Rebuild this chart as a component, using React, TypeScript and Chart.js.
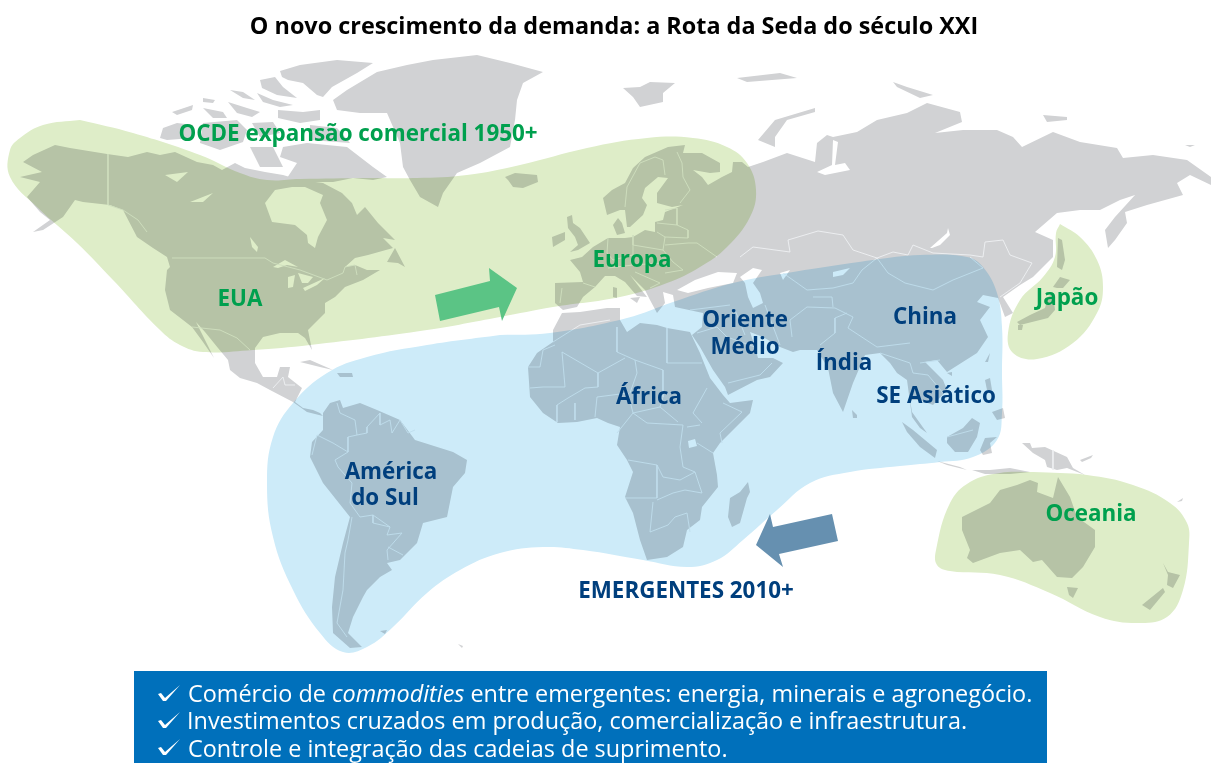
import React, { useEffect, useRef } from "react";
import { Chart, registerables } from "chart.js";

type P = number[];

// ---- regions (map units: 1211 x 763 frame) ----
const greenMain: P[] = [[80,120],[133,133],[200,155],[240,173],[267,180],[300,179],[367,178],[417,178],[467,175],[520,165],[587,148],[647,138],[693,138],[727,147],[747,163],[756,190],[750,217],[727,247],[700,267],[667,283],[620,297],[553,307],[500,317],[427,330],[310,345],[253,350],[203,352],[180,345],[160,330],[113,280],[77,243],[37,207],[10,177],[10,150],[20,138],[43,125],[80,120]];
const blueMain: P[] = [[500,335],[427,345],[367,357],[327,373],[293,403],[273,437],[267,483],[273,537],[293,590],[320,633],[343,652],[367,647],[393,627],[427,593],[460,570],[500,553],[543,547],[583,550],[643,560],[687,567],[717,560],[743,540],[777,510],[810,483],[850,472],[900,466],[940,462],[973,457],[997,440],[1002,413],[1002,373],[1002,327],[997,293],[983,267],[967,257],[920,255],[873,260],[787,273],[733,283],[673,302],[627,318],[550,333],[500,335]];
const greenJapan: P[] = [[1060,224],[1080,237],[1097,260],[1103,287],[1097,313],[1073,343],[1037,359],[1013,353],[1008,333],[1020,300],[1043,277],[1055,257],[1056,233],[1060,224]];
const greenOceania: P[] = [[1033,472],[1087,475],[1133,485],[1170,503],[1187,523],[1189,543],[1183,590],[1167,617],[1137,623],[1100,617],[1050,593],[1000,575],[950,571],[937,565],[936,550],[950,503],[970,482],[1000,473],[1033,472]];

// ---- land ----
const northAmerica: P[] = [[23,162],[33,155],[55,145],[70,148],[107,154],[128,157],[147,152],[160,155],[175,152],[197,162],[213,165],[222,170],[235,163],[245,168],[265,172],[283,175],[300,180],[323,183],[342,193],[352,203],[357,215],[365,207],[378,223],[395,240],[383,238],[393,248],[368,255],[355,258],[345,267],[355,265],[367,270],[380,270],[363,280],[345,287],[335,297],[325,303],[325,313],[308,330],[312,350],[305,338],[298,333],[280,333],[263,337],[255,348],[255,363],[263,377],[277,377],[280,367],[290,367],[288,377],[302,388],[295,402],[303,408],[313,410],[320,413],[323,416],[307,412],[293,402],[270,390],[257,383],[240,378],[230,370],[228,360],[218,348],[205,332],[196,322],[214,358],[203,342],[192,327],[183,320],[170,310],[165,290],[167,270],[170,267],[167,257],[153,248],[137,237],[123,210],[110,205],[83,202],[75,200],[63,217],[43,230],[33,232],[50,220],[40,212],[27,197],[40,182],[20,177],[42,172]];
const newfoundland: P[] = [[395,248],[405,267],[398,263],[387,262]];
const greenland: P[] = [[477,55],[510,63],[543,72],[523,83],[517,100],[515,120],[510,147],[480,163],[457,173],[443,193],[438,207],[420,197],[410,180],[403,167],[400,143],[387,113],[360,113],[337,110],[333,100],[347,90],[377,72],[407,65],[433,60]];
const iceland: P[] = [[505,177],[515,173],[537,175],[538,182],[523,188],[513,187],[508,180]];
const ellesmere: P[] = [[280,71],[300,65],[337,60],[373,63],[357,73],[332,87],[323,97],[317,95],[303,83],[288,80],[282,77]];
const axelHeiberg: P[] = [[260,80],[275,77],[283,87],[297,98],[277,95],[262,88]];
const arcticA: P[] = [[230,90],[243,92],[255,100],[243,98]];
const arcticB: P[] = [[257,93],[273,100],[293,105],[280,107],[263,102]];
const devon: P[] = [[278,110],[303,112],[320,110],[320,120],[300,123],[278,118]];
const melville: P[] = [[228,102],[247,108],[260,112],[252,117],[237,113]];
const arcticC: P[] = [[172,112],[193,105],[192,110],[177,115]];
const arcticD: P[] = [[203,98],[215,100],[213,103],[203,102]];
const arcticE: P[] = [[203,108],[223,112],[227,118],[213,118]];
const banks: P[] = [[163,128],[177,123],[193,125],[193,138],[167,140],[160,138]];
const victoriaIsland: P[] = [[203,123],[237,120],[247,130],[243,142],[220,150],[200,143]];
const somerset: P[] = [[252,123],[273,122],[280,133],[260,137]];
const baffin: P[] = [[283,147],[307,143],[347,147],[373,167],[387,177],[373,180],[353,178],[333,182],[303,182],[287,178],[297,163],[280,157]];
const baffinNorth: P[] = [[310,125],[337,128],[350,143],[310,140]];
const boothia: P[] = [[250,147],[273,147],[283,167],[260,167]];
const svalbard: P[] = [[623,88],[640,87],[650,82],[675,83],[663,93],[663,102],[640,107],[633,97]];
const franzJosef: P[] = [[737,78],[780,73],[797,78],[747,82]];
const novayaZemlya: P[] = [[758,140],[775,120],[815,108],[815,112],[787,120],[775,137],[775,147]];
const severnaya: P[] = [[893,82],[907,87],[933,95],[920,98],[897,87]];
const newSiberia: P[] = [[1043,115],[1067,117],[1067,120],[1047,122]];
const wrangel: P[] = [[1185,145],[1195,145],[1190,147]];
const eurasia: P[] = [[603,198],[612,190],[625,183],[633,168],[645,157],[668,147],[685,145],[683,153],[702,153],[720,163],[720,172],[710,173],[693,170],[702,177],[708,185],[722,177],[732,172],[733,162],[742,162],[748,167],[763,162],[787,153],[815,162],[817,143],[827,135],[833,137],[857,132],[877,120],[907,113],[927,103],[960,112],[962,122],[935,133],[963,130],[997,130],[1013,137],[1022,147],[1053,132],[1080,142],[1117,148],[1123,158],[1153,155],[1187,160],[1211,177],[1211,185],[1190,175],[1177,183],[1183,195],[1147,205],[1125,212],[1127,223],[1115,240],[1108,248],[1105,230],[1115,217],[1135,195],[1120,200],[1100,210],[1080,210],[1057,213],[1035,232],[1053,240],[1053,257],[1033,277],[1020,285],[1003,297],[1013,313],[1005,317],[998,298],[983,295],[977,302],[990,307],[980,320],[988,337],[977,353],[947,372],[937,360],[925,362],[943,380],[947,390],[933,405],[920,400],[910,400],[912,412],[927,433],[920,428],[912,417],[907,380],[897,373],[890,363],[880,353],[865,355],[853,383],[843,412],[833,393],[828,368],[817,350],[800,350],[793,352],[780,347],[763,337],[750,332],[755,347],[758,358],[773,358],[783,363],[770,377],[757,380],[728,395],[725,387],[713,370],[700,347],[692,335],[702,327],[703,313],[675,307],[673,295],[663,292],[665,303],[657,313],[650,300],[645,290],[630,275],[640,288],[647,297],[637,296],[625,282],[615,276],[605,276],[595,287],[583,297],[577,307],[563,310],[555,303],[555,283],[583,282],[580,272],[570,260],[582,257],[593,247],[608,238],[625,238],[633,237],[645,230],[655,232],[655,222],[663,220],[665,212],[683,205],[672,207],[657,203],[657,193],[668,178],[658,177],[645,188],[642,198],[647,205],[643,215],[630,227],[627,227],[625,210],[620,210],[607,215]];
const denmark: P[] = [[613,225],[618,218],[622,223],[625,233],[617,235]];
const britain: P[] = [[567,217],[572,215],[573,223],[580,228],[590,243],[578,250],[570,252],[578,245],[575,237],[568,228]];
const ireland: P[] = [[552,237],[565,232],[565,240],[553,247]];
const sardinia: P[] = [[613,287],[617,288],[617,298],[613,297]];
const sicily: P[] = [[630,298],[640,297],[637,303]];
const africa: P[] = [[562,313],[580,312],[607,308],[620,308],[620,320],[627,332],[640,323],[657,325],[667,328],[690,332],[700,353],[710,378],[723,395],[730,403],[753,400],[750,413],[740,423],[720,443],[713,453],[717,475],[718,487],[702,507],[700,520],[687,530],[683,547],[667,557],[647,560],[640,540],[633,513],[625,497],[633,472],[627,460],[617,445],[620,427],[608,423],[597,418],[577,422],[558,423],[543,413],[530,397],[528,367],[537,353],[553,342],[553,330]];
const madagascar: P[] = [[748,482],[750,492],[747,498],[740,523],[732,527],[728,517],[730,498],[740,492]];
const southAmerica: P[] = [[340,400],[343,408],[360,403],[377,410],[400,420],[415,440],[453,452],[467,460],[465,473],[453,487],[447,517],[423,523],[417,543],[400,560],[387,563],[392,570],[380,577],[367,590],[363,597],[353,617],[348,633],[362,647],[350,648],[333,633],[332,607],[335,577],[343,543],[350,517],[323,483],[310,457],[312,442],[323,430],[323,413],[330,403]];
const cuba: P[] = [[300,362],[310,360],[333,370],[320,367]];
const hispaniola: P[] = [[337,373],[352,373],[353,377],[340,377]];
const falklands: P[] = [[380,631],[387,630],[385,634]];
const southGeorgia: P[] = [[458,644],[463,646],[462,648]];
const australia: P[] = [[1017,485],[1030,480],[1038,483],[1037,492],[1053,498],[1058,477],[1070,497],[1077,517],[1095,530],[1095,547],[1083,567],[1072,578],[1057,577],[1042,560],[1033,562],[1020,550],[1000,553],[973,563],[967,558],[970,550],[962,530],[962,517],[990,503],[1000,490]];
const tasmania: P[] = [[1067,587],[1078,588],[1073,598],[1069,595]];
const nzNorth: P[] = [[1163,563],[1168,572],[1180,575],[1173,588],[1167,585],[1168,575]];
const nzSouth: P[] = [[1142,605],[1163,588],[1165,592],[1150,610]];
const newGuinea: P[] = [[1022,443],[1030,443],[1032,448],[1045,447],[1067,457],[1073,468],[1085,475],[1067,468],[1057,470],[1047,467],[1045,460],[1033,453]];
const newBritain: P[] = [[1080,460],[1093,455],[1091,458],[1082,462]];
const vanuatu: P[] = [[1177,502],[1183,498],[1182,501]];
const sumatra: P[] = [[902,422],[913,430],[937,450],[935,458],[920,447],[907,432]];
const java: P[] = [[937,461],[960,467],[967,470],[947,465]];
const lesserSunda: P[] = [[972,470],[990,470],[1010,468],[1030,472],[1010,474],[985,474]];
const borneo: P[] = [[947,437],[963,428],[972,418],[980,423],[977,437],[968,452],[955,452],[947,443]];
const sulawesi: P[] = [[980,450],[985,438],[997,437],[990,443],[992,453],[983,455]];
const luzon: P[] = [[985,380],[990,378],[992,390],[987,390]];
const mindanao: P[] = [[992,412],[1003,408],[1005,418],[997,420]];
const taiwan: P[] = [[985,362],[990,353],[988,362]];
const hainan: P[] = [[947,373],[952,372],[952,376]];
const sriLanka: P[] = [[852,410],[857,415],[857,418],[853,418]];
const sakhalin: P[] = [[1058,238],[1062,240],[1065,260],[1062,270],[1057,267]];
const hokkaido: P[] = [[1053,287],[1060,277],[1070,280],[1063,288],[1057,288]];
const honshu: P[] = [[1053,293],[1055,310],[1048,318],[1032,322],[1020,325],[1017,322],[1030,315],[1045,308],[1048,297]];
const kyushu: P[] = [[1018,325],[1023,325],[1022,330],[1018,330]];
const landMasses = [northAmerica,newfoundland,greenland,iceland,ellesmere,axelHeiberg,arcticA,arcticB,devon,melville,arcticC,arcticD,arcticE,banks,victoriaIsland,somerset,baffin,baffinNorth,boothia,svalbard,franzJosef,novayaZemlya,severnaya,newSiberia,wrangel,eurasia,denmark,britain,ireland,sardinia,sicily,africa,madagascar,southAmerica,cuba,hispaniola,falklands,southGeorgia,australia,tasmania,nzNorth,nzSouth,newGuinea,newBritain,vanuatu,sumatra,java,lesserSunda,borneo,sulawesi,luzon,mindanao,taiwan,hainan,sriLanka,sakhalin,hokkaido,honshu,kyushu];

// ---- inland water ----
const hudsonBay: P[] = [[265,203],[272,222],[295,225],[307,235],[308,243],[315,248],[318,237],[327,220],[320,203],[323,195],[305,187],[292,187],[275,190]];
const greatSlave: P[] = [[190,202],[213,193],[203,202]];
const greatBear: P[] = [[165,175],[188,172],[177,182]];
const winnipeg: P[] = [[250,237],[258,247],[257,252],[252,247]];
const superior: P[] = [[273,267],[285,260],[298,267],[287,265],[278,268]];
const michigan: P[] = [[288,277],[295,275],[293,287],[288,288]];
const huron: P[] = [[298,273],[313,277],[308,283],[302,283]];
const erie: P[] = [[303,288],[325,278],[317,285],[305,291]];
const blackSea: P[] = [[677,290],[695,280],[718,272],[737,273],[733,283],[708,288],[688,293]];
const caspian: P[] = [[740,277],[753,268],[762,270],[753,283],[760,293],[763,303],[753,308],[748,297],[745,283]];
const aral: P[] = [[780,273],[790,270],[783,280]];
const balkhash: P[] = [[833,272],[850,268],[843,275],[833,277]];
const baikal: P[] = [[930,248],[947,233],[948,228],[950,235],[940,245],[932,248]];
const ob: P[] = [[833,140],[838,142],[835,165],[845,163],[850,170],[825,175],[817,172],[832,165]];
const lakeVictoria: P[] = [[688,441],[695,439],[697,446],[689,448]];
const waters = [hudsonBay,greatSlave,greatBear,winnipeg,superior,michigan,huron,erie,blackSea,caspian,aral,balkhash,baikal,ob,lakeVictoria];

// ---- borders ----
const borders: P[][] = [
  [[108,154],[108,205],[123,210],[138,220],[147,232]],
  [[172,258],[265,258],[273,263],[300,270],[327,280],[343,273],[345,267],[355,265],[357,275]],
  [[192,327],[220,330],[237,338],[250,350]],
  [[273,388],[283,377],[285,385],[295,385]],
  [[337,403],[340,413],[355,420],[357,435],[348,437],[348,452],[335,460],[338,467],[352,483],[350,503],[360,517],[373,515],[390,527],[387,535],[402,533],[387,550],[388,560]],
  [[380,413],[367,427],[367,433],[357,435]],
  [[380,413],[380,425],[390,420],[392,433],[400,420],[408,433],[415,430]],
  [[312,455],[317,435],[333,443],[348,452]],
  [[352,517],[348,540],[345,553],[343,590],[337,623],[347,637]],
  [[373,515],[373,523],[390,527]],
  [[388,547],[403,555]],
  [[553,342],[580,325],[610,320]],
  [[617,327],[617,352],[635,360]],
  [[562,352],[598,373],[625,358]],
  [[528,367],[540,367],[543,350],[555,345]],
  [[565,387],[562,352]],[[543,387],[565,387]],
  [[635,360],[637,373],[630,393]],
  [[635,360],[663,370]],
  [[667,328],[667,363]],[[667,363],[702,363]],
  [[663,370],[663,397],[660,407]],
  [[707,388],[693,413],[702,423]],
  [[723,403],[742,412],[720,433],[722,443]],
  [[713,453],[697,443]],[[687,427],[700,425]],
  [[647,423],[683,425],[680,447],[683,467],[695,472],[680,480],[663,477],[657,465],[628,460]],
  [[657,465],[657,498],[625,498]],
  [[653,502],[650,532]],[[650,532],[668,525],[675,517],[687,513],[690,532]],
  [[695,472],[702,493],[685,490],[673,493],[657,500]],
  [[595,417],[597,397],[628,393]],
  [[575,403],[575,420]],[[557,405],[557,422]],
  [[617,433],[633,413],[628,393]],
  [[633,413],[647,423]],[[633,413],[660,407],[678,422]],
  [[598,373],[598,387],[585,388],[568,398],[557,405]],
  [[530,388],[543,387]],
  [[625,207],[627,187],[640,163],[655,157],[663,160],[665,175]],
  [[677,152],[682,163],[683,177],[690,190],[680,203]],
  [[665,210],[677,208],[677,225],[657,223]],
  [[677,225],[688,230],[688,238],[665,237],[657,232]],
  [[633,235],[633,245],[663,250],[665,237]],
  [[665,245],[688,243],[697,243],[717,257]],
  [[608,238],[607,253],[613,260],[633,255],[633,245]],
  [[608,268],[633,265],[662,263]],
  [[673,262],[683,270],[665,273]],[[663,250],[673,262]],
  [[635,272],[660,283],[650,288]],
  [[583,283],[595,287]],[[562,288],[560,303]],
  [[740,257],[753,247],[790,252],[788,240],[818,231],[843,235],[853,250],[877,258],[893,252],[908,255],[913,245],[933,253],[970,255],[983,257],[985,242],[1003,240],[1010,255],[1032,263],[1020,283],[1000,297]],
  [[877,258],[888,273],[905,283],[933,290],[953,280],[983,268],[970,257]],
  [[877,258],[862,270],[853,283],[833,288]],
  [[783,273],[807,290],[833,288]],
  [[813,297],[832,297],[833,307]],
  [[847,313],[835,318],[835,333],[820,345]],
  [[835,308],[853,317],[848,328],[877,347],[910,343]],
  [[792,337],[790,320],[807,307],[835,308]],
  [[735,310],[745,335]],[[690,310],[730,305]],[[765,305],[780,345]],
  [[697,333],[717,327],[727,337],[755,347]],
  [[728,383],[760,375],[772,363]],
  [[880,353],[910,363],[913,373]],[[920,363],[940,360]],[[913,373],[928,375],[943,393]],
  [[947,437],[973,430]],[[1053,450],[1053,470]],
];

// ---- arrows, panel, check marks ----
const arrowGreen: P[] = [[435,295],[490,281],[489,268],[517,288],[502,321],[499,307],[440,321]];
const arrowBlue: P[] = [[832,514],[773,527],[770,514],[756,545],[783,567],[779,554],[838,541]];
const panel: P[] = [[134,671],[1047,671],[1047,763],[134,763]];
const check1: P[] = [[158,694],[161,693],[165,698],[180,685],[166,701],[163,701]];
const check2: P[] = [[158,721],[161,720],[165,725],[180,712],[166,728],[163,728]];
const check3: P[] = [[158,748],[161,747],[165,752],[180,739],[166,755],[163,755]];
const checks = [check1, check2, check3];

// ---- text ----
const TITLE = "O novo crescimento da demanda: a Rota da Seda do século XXI";
const greenLabels: [string, number, number][] = [
  ["OCDE expansão comercial 1950+", 358, 135],["EUA", 240, 300],["Europa", 632, 261],["Japão", 1067, 299],["Oceania", 1091, 515],
];
const blueLabels: [string, number, number][] = [
  ["Oriente", 745, 321],["Médio", 745, 348],["Índia", 844, 364],["China", 925, 318],["África", 649, 398],["SE Asiático", 936, 397],["América", 391, 473],["do Sul", 385, 499],["EMERGENTES 2010+", 686, 592],
];
const bulletRuns: [string, boolean][][] = [
  [["Comércio de ", false],["commodities", true],[" entre emergentes: energia, minerais e agronegócio.", false]],
  [["Investimentos cruzados em produção, comercialização e infraestrutura.", false]],
  [["Controle e integração das cadeias de suprimento.", false]],
];
const bulletX = [188, 187, 188];
const bulletY = [695, 722, 750];

const FAMILY = '"Open Sans", sans-serif';

const multiplyPlugin = {
  id: "multiplyBlend",
  beforeDatasetDraw(chart: any, args: any) {
    if (chart.data.datasets[args.index].multiply) chart.ctx.globalCompositeOperation = "multiply";
  },
  afterDatasetDraw(chart: any) {
    chart.ctx.globalCompositeOperation = "source-over";
  },
};
Chart.register(multiplyPlugin, ...registerables);

const labelsPlugin = {
  id: "mapLabels",
  afterDraw(chart: any) {
    const { ctx, scales } = chart;
    const X = (v: number) => scales.x.getPixelForValue(v);
    const Y = (v: number) => scales.y.getPixelForValue(v);
    ctx.save();
    ctx.textBaseline = "middle";
    ctx.textAlign = "center";
    ctx.font = `700 23.4px ${FAMILY}`;
    ctx.fillStyle = "#000000";
    ctx.fillText(TITLE, X(614), Y(27));
    ctx.font = `700 22.4px ${FAMILY}`;
    ctx.fillStyle = "#00a04e";
    greenLabels.forEach(([t, x, y]) => ctx.fillText(t, X(x), Y(y)));
    ctx.fillStyle = "#003f7d";
    blueLabels.forEach(([t, x, y]) => ctx.fillText(t, X(x), Y(y)));
    ctx.textAlign = "left";
    ctx.fillStyle = "#ffffff";
    bulletRuns.forEach((runs, i) => {
      let px = X(bulletX[i]);
      runs.forEach(([t, it]) => {
        ctx.font = `${it ? "italic " : ""}400 23.4px ${FAMILY}`;
        ctx.fillText(t, px, Y(bulletY[i]));
        px += ctx.measureText(t).width;
      });
    });
    ctx.restore();
  },
};

const toXY = (a: P[]) => a.map(([x, y]) => ({ x, y }));
const shape = (a: P[], color: string, extra: any = {}) => ({
  data: toXY(a), fill: "shape", backgroundColor: color, borderWidth: 0, pointRadius: 0, tension: 0, ...extra,
});

export default function App() {
  const ref = useRef<HTMLCanvasElement>(null);
  useEffect(() => {
    document.body.style.margin = "0";
    const LAND = "#d1d2d4";
    const paint: any[] = [
      ...landMasses.map((m) => shape(m, LAND)),
      ...waters.map((m) => shape(m, "#ffffff")),
      ...borders.map((b) => ({ data: toXY(b), fill: false, borderColor: "#eef1f3", borderWidth: 0.9, pointRadius: 0, tension: 0 })),
      shape(greenMain, "#deedc8", { multiply: true, tension: 0.4 }),
      shape(blueMain, "#cdebf9", { multiply: true, tension: 0.4 }),
      shape(greenJapan, "#deedc8", { multiply: true, tension: 0.4 }),
      shape(greenOceania, "#deedc8", { multiply: true, tension: 0.4 }),
      shape(arrowGreen, "#5bc485"),
      shape(arrowBlue, "#6690b0"),
      shape(panel, "#0070bb"),
      ...checks.map((c) => shape(c, "#ffffff")),
    ];
    const chart = new Chart(ref.current!, {
      type: "line",
      data: { datasets: paint.slice().reverse() },
      plugins: [labelsPlugin],
      options: {
        animation: false,
        responsive: false,
        layout: { padding: 0 },
        plugins: { legend: { display: false }, tooltip: { enabled: false } },
        scales: {
          x: { type: "linear", min: 0, max: 1211, display: false },
          y: { type: "linear", min: 0, max: 763, reverse: true, display: false },
        },
      },
    } as any);
    return () => chart.destroy();
  }, []);
  return (
    <div style={{ position: "absolute", left: 0, top: 0, width: 1211, height: 763, background: "#fff" }}>
      <canvas ref={ref} width={1211} height={763} style={{ display: "block" }} />
    </div>
  );
}
